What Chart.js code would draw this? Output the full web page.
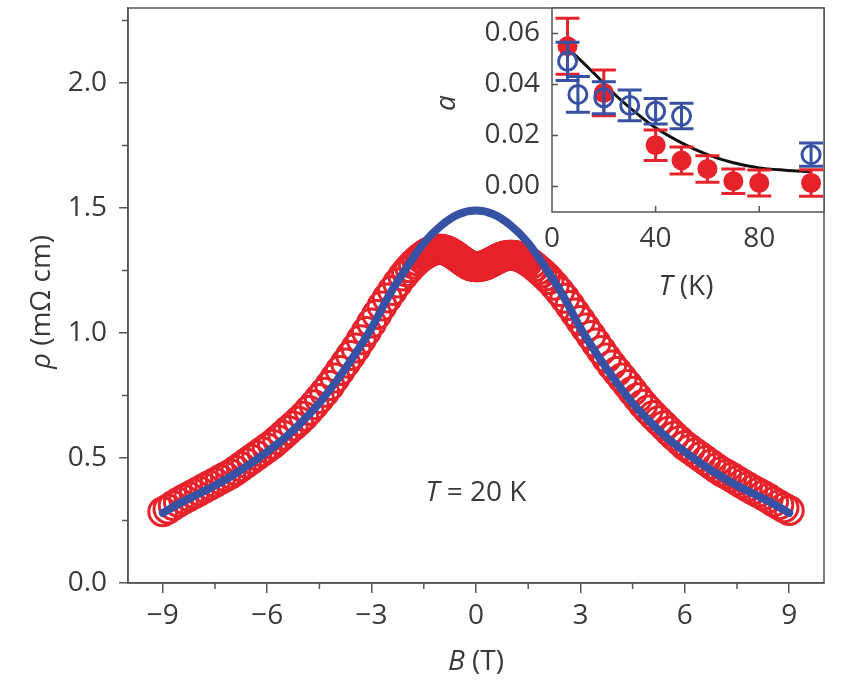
<!DOCTYPE html>
<html><head><meta charset="utf-8">
<script src="https://cdn.jsdelivr.net/npm/chart.js@4.4.1/dist/chart.umd.min.js"></script>
<style>
html,body{margin:0;padding:0;background:#fff;}
#wrap{position:relative;width:845px;height:696px;overflow:hidden;}
canvas{position:absolute;left:0;top:0;}
</style></head><body>
<div id="wrap"><canvas id="main" width="845" height="696"></canvas><canvas id="inset" width="845" height="696"></canvas></div>
<script>
// ---------- main panel data ----------
const redB = [
-9.00,-8.85,-8.70,-8.55,-8.40,-8.25,-8.10,-7.95,-7.80,-7.65,
-7.50,-7.35,-7.20,-7.05,-6.90,-6.75,-6.60,-6.45,-6.30,-6.15,
-6.00,-5.85,-5.70,-5.55,-5.40,-5.25,-5.10,-4.95,-4.80,-4.65,
-4.50,-4.35,-4.20,-4.05,-3.90,-3.75,-3.60,-3.45,-3.30,-3.15,
-3.00,-2.85,-2.70,-2.55,-2.40,-2.25,-2.10,-2.00,-1.90,-1.80,-1.70,-1.60,
-1.50,-1.45,-1.40,-1.35,-1.30,-1.25,-1.20,-1.15,-1.10,-1.05,
-1.00,-0.95,-0.90,-0.85,-0.80,-0.75,-0.70,-0.65,-0.60,-0.55,
-0.50,-0.45,-0.40,-0.35,-0.30,-0.25,-0.20,-0.15,-0.10,-0.05,
0.00,
0.05,0.10,0.15,0.20,0.25,0.30,0.35,0.40,0.45,0.50,
0.55,0.60,0.65,0.70,0.75,0.80,0.85,0.90,0.95,1.00,
1.05,1.10,1.15,1.20,1.25,1.30,1.35,1.40,1.45,1.50,
1.60,1.70,1.80,1.90,2.00,2.10,2.25,2.40,2.55,2.70,2.85,3.00,
3.15,3.30,3.45,3.60,3.75,3.90,4.05,4.20,4.35,4.50,
4.65,4.80,4.95,5.10,5.25,5.40,5.55,5.70,5.85,6.00,
6.15,6.30,6.45,6.60,6.75,6.90,7.05,7.20,7.35,7.50,
7.65,7.80,7.95,8.10,8.25,8.40,8.55,8.70,8.85,9.00];
const redRho = [
0.285,0.296,0.310,0.323,0.335,0.346,0.357,0.368,0.380,0.391,
0.402,0.414,0.425,0.436,0.450,0.465,0.480,0.495,0.510,0.525,
0.540,0.555,0.573,0.591,0.610,0.628,0.647,0.667,0.690,0.713,
0.738,0.763,0.790,0.820,0.850,0.880,0.910,0.940,0.973,1.006,
1.040,1.074,1.108,1.140,1.170,1.200,1.228,1.245,1.261,1.276,1.289,1.301,
1.311,1.316,1.320,1.324,1.327,1.330,1.332,1.334,1.335,1.335,
1.335,1.334,1.332,1.330,1.327,1.323,1.319,1.315,1.310,1.305,
1.300,1.295,1.290,1.285,1.280,1.276,1.272,1.269,1.267,1.266,
1.265,
1.265,1.266,1.267,1.269,1.271,1.274,1.277,1.281,1.284,1.288,
1.292,1.295,1.299,1.302,1.305,1.307,1.309,1.310,1.311,1.311,
1.311,1.310,1.309,1.307,1.305,1.302,1.299,1.295,1.291,1.286,
1.276,1.265,1.253,1.241,1.228,1.214,1.191,1.166,1.139,1.110,1.080,1.050,
1.020,0.990,0.960,0.930,0.900,0.872,0.846,0.820,0.794,0.767,
0.741,0.715,0.692,0.670,0.649,0.629,0.608,0.588,0.569,0.550,
0.535,0.520,0.505,0.490,0.475,0.460,0.446,0.435,0.423,0.410,
0.397,0.385,0.373,0.362,0.351,0.339,0.325,0.313,0.301,0.290];
const blueB = [-9,-8.5,-8,-7.5,-7,-6.5,-6,-5.5,-5,-4.5,-4,-3.5,-3,-2.5,-2,-1.5,-1,-0.5,0,0.5,1,1.5,2,2.5,3,3.5,4,4.5,5,5.5,6,6.5,7,7.5,8,8.5,9];
const blueRho = [0.28,0.32,0.355,0.39,0.43,0.475,0.525,0.58,0.645,0.72,0.81,0.91,1.02,1.15,1.26,1.36,1.43,1.475,1.49,1.475,1.43,1.36,1.26,1.15,1.02,0.91,0.81,0.72,0.645,0.58,0.525,0.475,0.43,0.39,0.355,0.32,0.28];
const mainXTicks = [-9,-6,-3,0,3,6,9];
const mainXMinor = [-7.5,-4.5,-1.5,1.5,4.5,7.5];
const mainYTicks = [0,0.5,1.0,1.5,2.0];
const mainYMinor = [0.25,0.75,1.25,1.75,2.25];

// ---------- inset data ----------
const redT = [6,20,40,50,60,70,80,100];
const redA = [0.055,0.0367,0.0162,0.0102,0.0069,0.0021,0.0014,0.0014];
const redErr = [0.011,0.009,0.006,0.0053,0.0052,0.0048,0.0051,0.0052];
const blueT = [6,10,20,30,40,50,100];
const blueA = [0.0491,0.0361,0.0348,0.0318,0.0295,0.0276,0.0125];
const blueErr = [0.0075,0.007,0.0063,0.006,0.005,0.005,0.0046];
const fitT = [5,8,16,25,34,40,50,60,70,80,90,100];
const fitA = [0.055,0.0524,0.0446,0.0354,0.0276,0.0230,0.0171,0.0125,0.0093,0.0073,0.0064,0.0058];
const insetXTicks = [0,40,80];
const insetYTicks = [0,0.02,0.04,0.06];

// ---------- styles ----------
const RED = '#e6222b';
const BLUE = '#3752a4';
const AX = '#555555';
const TXT = '#3a3a3a';
const FONT = '"Open Sans", "Noto Sans", "DejaVu Sans", sans-serif';
const FS = 28;

function drawRich(ctx, segs, cx, cy, rot){
  ctx.save();
  ctx.translate(cx, cy);
  ctx.rotate(rot);
  ctx.fillStyle = TXT;
  ctx.textBaseline = 'middle';
  ctx.textAlign = 'left';
  let w = 0;
  const ws = segs.map(s => { ctx.font = (s.i ? 'italic ' : '') + FS + 'px ' + FONT; const m = ctx.measureText(s.t).width; w += m; return m; });
  let xx = -w/2;
  segs.forEach((s, k) => { ctx.font = (s.i ? 'italic ' : '') + FS + 'px ' + FONT; ctx.fillText(s.t, xx, 0); xx += ws[k]; });
  ctx.restore();
}
const pts = (xs, ys) => xs.map((v, i) => ({x: v, y: ys[i]}));
const noPad = s => { s.paddingTop = 0; s.paddingBottom = 0; s.paddingLeft = 0; s.paddingRight = 0; };

const mainDecor = {
  id: 'mainDecor',
  afterDraw(chart){
    const {ctx, chartArea: a, scales: {x, y}} = chart;
    ctx.save();
    ctx.strokeStyle = AX; ctx.lineWidth = 1.5;
    ctx.strokeRect(a.left, a.top, a.right - a.left, a.bottom - a.top);
    ctx.beginPath();
    mainXMinor.forEach(v => { const px = x.getPixelForValue(v); ctx.moveTo(px, a.bottom); ctx.lineTo(px, a.bottom + 6); });
    mainYMinor.forEach(v => { const py = y.getPixelForValue(v); ctx.moveTo(a.left, py); ctx.lineTo(a.left - 6, py); });
    ctx.stroke();
    ctx.restore();
    drawRich(ctx, [{t:'B', i:true}, {t:' (T)'}], x.getPixelForValue(0), 662, 0);
    drawRich(ctx, [{t:'ρ', i:true}, {t:' (mΩ cm)'}], 42, 302, -Math.PI/2);
    drawRich(ctx, [{t:'T', i:true}, {t:' = 20 K'}], x.getPixelForValue(0), y.getPixelForValue(0.36), 0);
  }
};

new Chart(document.getElementById('main'), {
  type: 'scatter',
  data: { datasets: [
    { label: 'fit', data: pts(blueB, blueRho), showLine: true, borderColor: BLUE, borderWidth: 8,
      borderCapStyle: 'round', borderJoinStyle: 'round', cubicInterpolationMode: 'monotone',
      pointRadius: 0, fill: false, order: 0 },
    { label: 'data', data: pts(redB, redRho), showLine: false, pointRadius: 14, pointBorderWidth: 3,
      pointBorderColor: RED, pointBackgroundColor: 'rgba(255,255,255,0)', order: 1 }
  ]},
  options: {
    responsive: false, animation: false, devicePixelRatio: 1,
    layout: { autoPadding: false, padding: { left: 0, top: 8, right: 21, bottom: 0 } },
    plugins: { legend: { display: false }, tooltip: { enabled: false } },
    scales: {
      x: { type: 'linear', min: -10, max: 10,
        afterBuildTicks: s => { s.ticks = mainXTicks.map(v => ({value: v})); },
        afterFit: s => { s.height = 113; noPad(s); },
        ticks: { autoSkip: false, maxRotation: 0, padding: 6, color: TXT, font: { family: FONT, size: FS },
          callback: v => (v < 0 ? '\u2212' : '') + Math.abs(v) },
        grid: { drawOnChartArea: false, drawTicks: true, tickLength: 10, color: AX, lineWidth: 1.5 },
        border: { display: true, color: AX, width: 1.5 } },
      y: { type: 'linear', min: 0, max: 2.3,
        afterBuildTicks: s => { s.ticks = mainYTicks.map(v => ({value: v})); },
        afterFit: s => { s.width = 128; noPad(s); },
        ticks: { autoSkip: false, padding: 12, color: TXT, font: { family: FONT, size: FS },
          callback: v => Number(v).toFixed(1) },
        grid: { drawOnChartArea: false, drawTicks: true, tickLength: 9, color: AX, lineWidth: 1.5 },
        border: { display: true, color: AX, width: 1.5 } }
    }
  },
  plugins: [mainDecor]
});

const insetDecor = {
  id: 'insetDecor',
  beforeDraw(chart){
    const {ctx, chartArea: a} = chart;
    ctx.save(); ctx.fillStyle = '#ffffff';
    ctx.fillRect(a.left, a.top, a.right - a.left, a.bottom - a.top);
    ctx.restore();
  },
  afterDatasetDraw(chart, args){
    const ds = chart.data.datasets[args.index];
    if (!ds.errs) return;
    const {ctx, scales: {x, y}} = chart;
    ctx.save();
    ctx.strokeStyle = ds.borderColor; ctx.lineWidth = 3;
    ds.data.forEach((p, i) => {
      const px = x.getPixelForValue(p.x);
      const y1 = y.getPixelForValue(p.y + ds.errs[i]);
      const y2 = y.getPixelForValue(p.y - ds.errs[i]);
      ctx.beginPath();
      ctx.moveTo(px, y1); ctx.lineTo(px, y2);
      ctx.moveTo(px - 12, y1); ctx.lineTo(px + 12, y1);
      ctx.moveTo(px - 12, y2); ctx.lineTo(px + 12, y2);
      ctx.stroke();
    });
    ctx.restore();
  },
  afterDraw(chart){
    const {ctx, chartArea: a, scales: {x, y}} = chart;
    ctx.save();
    ctx.strokeStyle = AX; ctx.lineWidth = 1.5;
    ctx.strokeRect(a.left, a.top, a.right - a.left, a.bottom - a.top);
    ctx.beginPath();
    insetXTicks.forEach(v => { if (v === 0) return; const px = x.getPixelForValue(v); ctx.moveTo(px, a.bottom); ctx.lineTo(px, a.bottom - 6); });
    insetYTicks.forEach(v => { const py = y.getPixelForValue(v); ctx.moveTo(a.left, py); ctx.lineTo(a.left + 6, py); });
    ctx.stroke();
    ctx.restore();
    drawRich(ctx, [{t:'T', i:true}, {t:' (K)'}], 686, 287, 0);
    drawRich(ctx, [{t:'a', i:true}], 447, 103, -Math.PI/2);
  }
};

new Chart(document.getElementById('inset'), {
  type: 'scatter',
  data: { datasets: [
    { label: 'fit', data: pts(fitT, fitA), showLine: true, borderColor: '#111111', borderWidth: 3,
      cubicInterpolationMode: 'monotone', pointRadius: 0, fill: false, order: 2 },
    { label: 'red', data: pts(redT, redA), errs: redErr, showLine: false, pointRadius: 10, pointBorderWidth: 0,
      borderColor: RED, pointBackgroundColor: RED, pointBorderColor: RED, order: 1 },
    { label: 'blue', data: pts(blueT, blueA), errs: blueErr, showLine: false, pointRadius: 9, pointBorderWidth: 3,
      borderColor: BLUE, pointBorderColor: BLUE, pointBackgroundColor: 'rgba(255,255,255,0)', order: 0 }
  ]},
  options: {
    responsive: false, animation: false, devicePixelRatio: 1,
    layout: { autoPadding: false, padding: { left: 0, top: 8, right: 21, bottom: 0 } },
    plugins: { legend: { display: false }, tooltip: { enabled: false } },
    scales: {
      x: { type: 'linear', min: 0, max: 105,
        afterBuildTicks: s => { s.ticks = insetXTicks.map(v => ({value: v})); },
        afterFit: s => { s.height = 484; noPad(s); },
        ticks: { autoSkip: false, maxRotation: 0, padding: 10, color: TXT, font: { family: FONT, size: FS },
          callback: v => String(v) },
        grid: { display: false, drawTicks: false },
        border: { display: false } },
      y: { type: 'linear', min: -0.01, max: 0.07,
        afterBuildTicks: s => { s.ticks = insetYTicks.map(v => ({value: v})); },
        afterFit: s => { s.width = 552; noPad(s); },
        ticks: { autoSkip: false, padding: 12, color: TXT, font: { family: FONT, size: FS },
          callback: v => Number(v).toFixed(2) },
        grid: { display: false, drawTicks: false },
        border: { display: false } }
    }
  },
  plugins: [insetDecor]
});
</script>
</body></html>
